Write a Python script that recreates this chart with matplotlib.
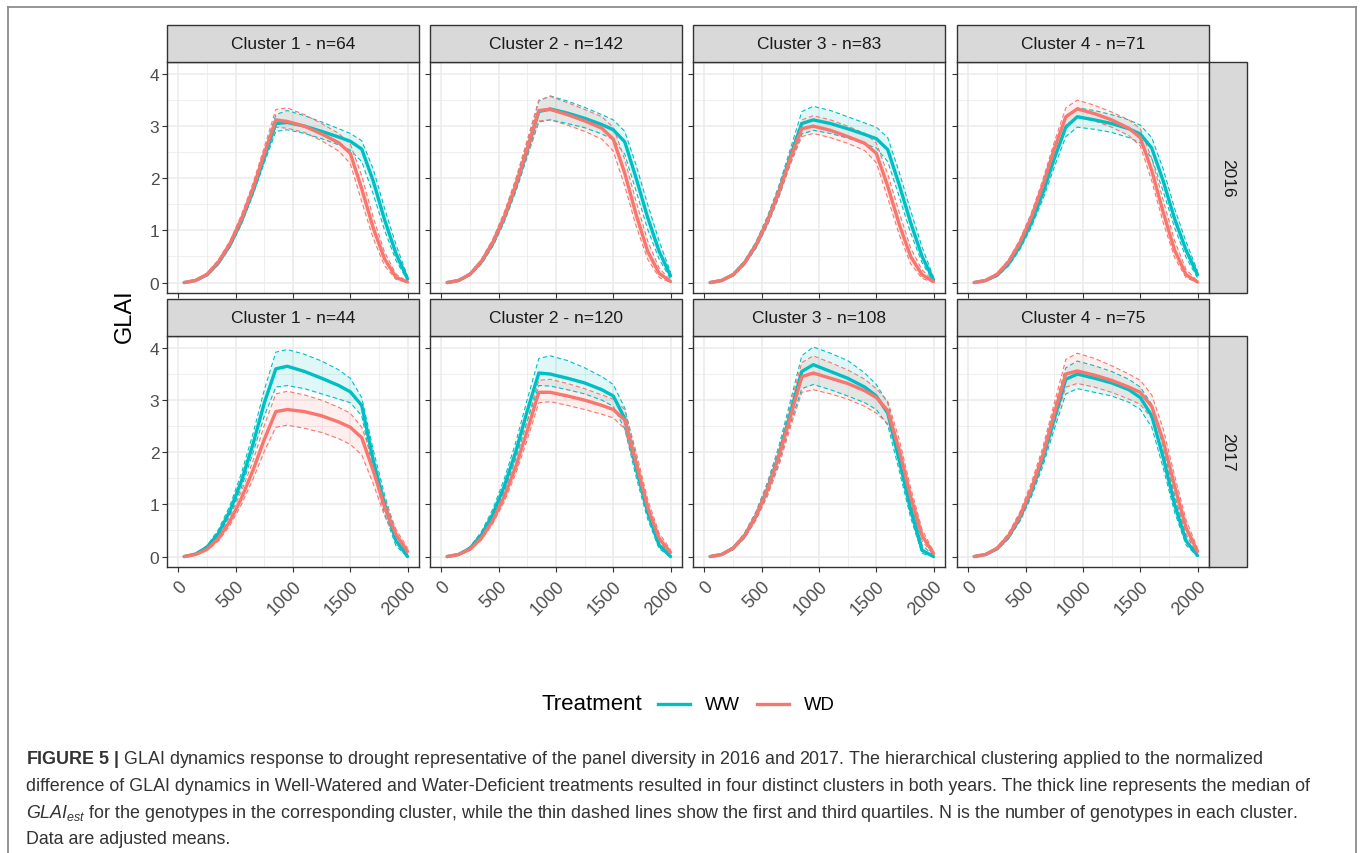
import numpy as np
import matplotlib
matplotlib.use('Agg')
import matplotlib.pyplot as plt
from matplotlib.lines import Line2D
from matplotlib.patches import Rectangle

plt.rcParams['font.family'] = ['Liberation Sans', 'DejaVu Sans']
plt.rcParams['mathtext.fontset'] = 'custom'
plt.rcParams['mathtext.rm'] = 'Liberation Sans'
plt.rcParams['mathtext.it'] = 'Liberation Sans:italic'
plt.rcParams['mathtext.bf'] = 'Liberation Sans:bold'

# ---------------- data ----------------
time = [50, 150, 250, 350, 450, 550, 650, 750, 850, 950, 1100, 1250, 1400, 1500, 1600, 1700, 1800, 1900, 2000]
years = ['2016', '2017']
strip_2016 = ['Cluster 1 - n=64', 'Cluster 2 - n=142', 'Cluster 3 - n=83', 'Cluster 4 - n=71']
strip_2017 = ['Cluster 1 - n=44', 'Cluster 2 - n=120', 'Cluster 3 - n=108', 'Cluster 4 - n=75']
treatments = ['WW', 'WD']
x_ticks = [0, 500, 1000, 1500, 2000]
y_ticks = [0, 1, 2, 3, 4]

# 2016 cluster 1
y16c1_ww_med = [0.00,0.04,0.15,0.38,0.72,1.18,1.75,2.40,3.05,3.07,3.00,2.90,2.79,2.71,2.56,1.95,1.20,0.55,0.07]
y16c1_ww_q1  = [0.00,0.03,0.13,0.35,0.68,1.12,1.68,2.30,2.90,2.93,2.86,2.76,2.64,2.54,2.32,1.70,1.00,0.42,0.04]
y16c1_ww_q3  = [0.00,0.05,0.17,0.42,0.78,1.26,1.85,2.52,3.22,3.30,3.20,3.08,2.95,2.86,2.72,2.18,1.42,0.72,0.12]
y16c1_wd_med = [0.00,0.04,0.16,0.40,0.75,1.22,1.80,2.48,3.12,3.09,3.00,2.85,2.68,2.48,1.80,1.05,0.45,0.10,0.01]
y16c1_wd_q1  = [0.00,0.03,0.14,0.37,0.71,1.16,1.72,2.38,2.98,2.96,2.88,2.72,2.52,2.28,1.55,0.85,0.32,0.06,0.00]
y16c1_wd_q3  = [0.00,0.05,0.18,0.44,0.80,1.30,1.90,2.60,3.32,3.35,3.22,3.05,2.86,2.66,2.05,1.25,0.58,0.16,0.02]
# 2016 cluster 2
y16c2_ww_med = [0.00,0.04,0.16,0.40,0.76,1.25,1.85,2.55,3.28,3.33,3.25,3.15,3.03,2.93,2.70,2.00,1.25,0.60,0.13]
y16c2_ww_q1  = [0.00,0.03,0.14,0.36,0.70,1.17,1.75,2.42,3.08,3.12,3.05,2.97,2.85,2.74,2.46,1.75,1.02,0.45,0.07]
y16c2_ww_q3  = [0.00,0.05,0.18,0.44,0.82,1.33,1.96,2.70,3.48,3.58,3.48,3.36,3.22,3.12,2.90,2.25,1.50,0.80,0.20]
y16c2_wd_med = [0.00,0.04,0.16,0.41,0.78,1.27,1.88,2.58,3.30,3.32,3.22,3.10,2.96,2.75,2.10,1.30,0.60,0.18,0.02]
y16c2_wd_q1  = [0.00,0.03,0.14,0.37,0.72,1.19,1.78,2.45,3.10,3.12,3.02,2.90,2.75,2.52,1.85,1.08,0.45,0.10,0.00]
y16c2_wd_q3  = [0.00,0.05,0.18,0.45,0.84,1.36,2.00,2.74,3.50,3.57,3.45,3.32,3.18,2.98,2.36,1.55,0.80,0.28,0.04]
# 2016 cluster 3
y16c3_ww_med = [0.00,0.04,0.15,0.38,0.72,1.18,1.75,2.42,3.05,3.12,3.05,2.95,2.84,2.76,2.55,1.88,1.15,0.50,0.05]
y16c3_ww_q1  = [0.00,0.03,0.13,0.34,0.66,1.10,1.64,2.28,2.85,2.92,2.86,2.77,2.66,2.58,2.32,1.65,0.95,0.38,0.02]
y16c3_ww_q3  = [0.00,0.05,0.17,0.42,0.78,1.27,1.86,2.56,3.28,3.38,3.30,3.18,3.06,2.98,2.78,2.12,1.38,0.68,0.10]
y16c3_wd_med = [0.00,0.04,0.15,0.38,0.72,1.18,1.74,2.38,2.95,3.00,2.92,2.80,2.67,2.48,1.85,1.12,0.50,0.15,0.02]
y16c3_wd_q1  = [0.00,0.03,0.13,0.35,0.67,1.11,1.65,2.27,2.80,2.86,2.78,2.67,2.53,2.30,1.62,0.92,0.36,0.08,0.00]
y16c3_wd_q3  = [0.00,0.05,0.17,0.41,0.77,1.25,1.83,2.50,3.12,3.20,3.12,3.00,2.86,2.68,2.08,1.35,0.66,0.24,0.04]
# 2016 cluster 4
y16c4_ww_med = [0.00,0.04,0.14,0.36,0.70,1.15,1.72,2.38,2.98,3.18,3.12,3.05,2.95,2.85,2.58,1.95,1.22,0.62,0.15]
y16c4_ww_q1  = [0.00,0.03,0.12,0.32,0.64,1.07,1.60,2.22,2.80,2.98,2.94,2.88,2.78,2.68,2.38,1.75,1.05,0.48,0.09]
y16c4_ww_q3  = [0.00,0.05,0.16,0.40,0.76,1.24,1.84,2.54,3.15,3.35,3.30,3.22,3.12,3.02,2.78,2.18,1.42,0.78,0.22]
y16c4_wd_med = [0.00,0.04,0.16,0.40,0.77,1.26,1.87,2.57,3.18,3.33,3.24,3.12,2.96,2.78,2.15,1.35,0.62,0.15,0.01]
y16c4_wd_q1  = [0.00,0.03,0.14,0.36,0.71,1.18,1.77,2.45,3.02,3.18,3.10,2.98,2.82,2.62,1.95,1.15,0.48,0.09,0.00]
y16c4_wd_q3  = [0.00,0.05,0.18,0.44,0.83,1.34,1.98,2.70,3.35,3.50,3.40,3.27,3.12,2.95,2.38,1.58,0.80,0.25,0.03]
# 2017 cluster 1
y17c1_ww_med = [0.00,0.05,0.18,0.45,0.88,1.45,2.15,2.95,3.60,3.65,3.55,3.42,3.28,3.16,2.90,1.85,1.00,0.30,0.00]
y17c1_ww_q1  = [0.00,0.04,0.15,0.40,0.80,1.33,1.98,2.70,3.25,3.28,3.22,3.12,3.02,2.95,2.70,1.65,0.82,0.20,0.00]
y17c1_ww_q3  = [0.00,0.06,0.21,0.52,0.98,1.60,2.35,3.20,3.92,3.97,3.88,3.75,3.58,3.42,3.05,2.05,1.18,0.42,0.02]
y17c1_wd_med = [0.00,0.04,0.14,0.35,0.68,1.12,1.65,2.25,2.78,2.82,2.78,2.70,2.58,2.48,2.28,1.65,0.95,0.42,0.10]
y17c1_wd_q1  = [0.00,0.03,0.12,0.30,0.60,1.00,1.48,2.02,2.48,2.52,2.46,2.38,2.26,2.15,1.95,1.40,0.78,0.32,0.05]
y17c1_wd_q3  = [0.00,0.05,0.16,0.40,0.77,1.25,1.83,2.52,3.12,3.17,3.10,3.00,2.86,2.75,2.48,1.85,1.10,0.52,0.16]
# 2017 cluster 2
y17c2_ww_med = [0.00,0.04,0.16,0.42,0.82,1.36,2.02,2.80,3.52,3.50,3.42,3.33,3.20,3.08,2.65,1.70,0.85,0.22,0.00]
y17c2_ww_q1  = [0.00,0.03,0.14,0.38,0.75,1.25,1.88,2.60,3.28,3.27,3.20,3.12,3.00,2.88,2.45,1.52,0.72,0.15,0.00]
y17c2_ww_q3  = [0.00,0.05,0.19,0.48,0.92,1.50,2.20,3.02,3.80,3.85,3.76,3.62,3.45,3.30,2.85,1.90,1.00,0.32,0.02]
y17c2_wd_med = [0.00,0.04,0.14,0.36,0.70,1.16,1.73,2.42,3.15,3.15,3.08,3.00,2.90,2.82,2.62,1.80,0.95,0.35,0.08]
y17c2_wd_q1  = [0.00,0.03,0.12,0.32,0.64,1.06,1.60,2.25,2.95,2.97,2.90,2.82,2.73,2.66,2.45,1.62,0.82,0.26,0.04]
y17c2_wd_q3  = [0.00,0.05,0.16,0.40,0.78,1.28,1.90,2.62,3.38,3.40,3.32,3.22,3.10,3.02,2.82,2.00,1.10,0.45,0.13]
# 2017 cluster 3
y17c3_ww_med = [0.00,0.04,0.16,0.40,0.78,1.30,1.95,2.75,3.55,3.68,3.55,3.42,3.25,3.08,2.75,1.85,0.90,0.12,0.00]
y17c3_ww_q1  = [0.00,0.03,0.14,0.36,0.72,1.20,1.80,2.55,3.22,3.30,3.20,3.08,2.95,2.82,2.52,1.65,0.75,0.06,0.00]
y17c3_ww_q3  = [0.00,0.05,0.18,0.45,0.86,1.42,2.12,2.98,3.85,4.02,3.90,3.76,3.52,3.30,2.95,2.05,1.05,0.22,0.02]
y17c3_wd_med = [0.00,0.04,0.16,0.40,0.78,1.28,1.92,2.68,3.45,3.52,3.42,3.32,3.18,3.05,2.80,2.05,1.15,0.40,0.06]
y17c3_wd_q1  = [0.00,0.03,0.13,0.35,0.70,1.16,1.75,2.48,3.15,3.20,3.12,3.02,2.88,2.75,2.55,1.85,0.98,0.30,0.03]
y17c3_wd_q3  = [0.00,0.05,0.18,0.44,0.85,1.40,2.08,2.90,3.72,3.85,3.72,3.58,3.40,3.22,2.98,2.25,1.32,0.52,0.10]
# 2017 cluster 4
y17c4_ww_med = [0.00,0.04,0.15,0.38,0.75,1.25,1.88,2.65,3.40,3.50,3.42,3.33,3.20,3.05,2.70,1.90,1.00,0.30,0.02]
y17c4_ww_q1  = [0.00,0.03,0.13,0.34,0.68,1.15,1.74,2.45,3.12,3.22,3.15,3.08,2.96,2.82,2.48,1.70,0.85,0.22,0.00]
y17c4_ww_q3  = [0.00,0.05,0.17,0.43,0.83,1.36,2.02,2.85,3.62,3.75,3.66,3.55,3.40,3.25,2.92,2.10,1.18,0.42,0.06]
y17c4_wd_med = [0.00,0.04,0.16,0.40,0.78,1.30,1.95,2.75,3.50,3.56,3.48,3.38,3.25,3.15,2.88,2.22,1.35,0.55,0.10]
y17c4_wd_q1  = [0.00,0.03,0.14,0.36,0.71,1.20,1.80,2.55,3.25,3.32,3.25,3.15,3.02,2.92,2.65,2.00,1.15,0.42,0.05]
y17c4_wd_q3  = [0.00,0.05,0.18,0.45,0.86,1.42,2.10,2.95,3.78,3.90,3.80,3.66,3.50,3.38,3.10,2.45,1.55,0.70,0.16]

caption_lines = [
    r"$\mathbf{FIGURE\ 5\ |}$ GLAI dynamics response to drought representative of the panel diversity in 2016 and 2017. The hierarchical clustering applied to the normalized",
    "difference of GLAI dynamics in Well-Watered and Water-Deficient treatments resulted in four distinct clusters in both years. The thick line represents the median of",
    r"$\mathit{GLAI}_{\mathit{est}}$ for the genotypes in the corresponding cluster, while the thin dashed lines show the first and third quartiles. N is the number of genotypes in each cluster.",
    "Data are adjusted means.",
]

panels = {
    ('2016', 0): {'WW': (y16c1_ww_med, y16c1_ww_q1, y16c1_ww_q3), 'WD': (y16c1_wd_med, y16c1_wd_q1, y16c1_wd_q3)},
    ('2016', 1): {'WW': (y16c2_ww_med, y16c2_ww_q1, y16c2_ww_q3), 'WD': (y16c2_wd_med, y16c2_wd_q1, y16c2_wd_q3)},
    ('2016', 2): {'WW': (y16c3_ww_med, y16c3_ww_q1, y16c3_ww_q3), 'WD': (y16c3_wd_med, y16c3_wd_q1, y16c3_wd_q3)},
    ('2016', 3): {'WW': (y16c4_ww_med, y16c4_ww_q1, y16c4_ww_q3), 'WD': (y16c4_wd_med, y16c4_wd_q1, y16c4_wd_q3)},
    ('2017', 0): {'WW': (y17c1_ww_med, y17c1_ww_q1, y17c1_ww_q3), 'WD': (y17c1_wd_med, y17c1_wd_q1, y17c1_wd_q3)},
    ('2017', 1): {'WW': (y17c2_ww_med, y17c2_ww_q1, y17c2_ww_q3), 'WD': (y17c2_wd_med, y17c2_wd_q1, y17c2_wd_q3)},
    ('2017', 2): {'WW': (y17c3_ww_med, y17c3_ww_q1, y17c3_ww_q3), 'WD': (y17c3_wd_med, y17c3_wd_q1, y17c3_wd_q3)},
    ('2017', 3): {'WW': (y17c4_ww_med, y17c4_ww_q1, y17c4_ww_q3), 'WD': (y17c4_wd_med, y17c4_wd_q1, y17c4_wd_q3)},
}

# ---------------- styling / layout ----------------
colors = {'WW': '#00BFC4', 'WD': '#F8766D'}
W, H = 1360, 854
fig = plt.figure(figsize=(W / 100, H / 100), dpi=100)
fig.patch.set_facecolor('white')

def fbox(x0, y0, x1, y1):
    return [x0 / W, 1 - y1 / H, (x1 - x0) / W, (y1 - y0) / H]

col_left = [167, 430, 693, 957]
panel_w = 252
row_top = [63, 337]
panel_h = 231
strip_h = 37
rstrip_w = 38
dark = '#333333'
strip_fill = '#D9D9D9'

t = np.array(time)
for r, yr in enumerate(years):
    strips = strip_2016 if yr == '2016' else strip_2017
    for c in range(4):
        x0 = col_left[c]; y0 = row_top[r]
        ax = fig.add_axes(fbox(x0, y0, x0 + panel_w, y0 + panel_h))
        ax.set_xlim(-100, 2100)
        ax.set_ylim(-0.2, 4.23)
        ax.set_xticks(x_ticks)
        ax.set_yticks(y_ticks)
        ax.set_xticks([250, 750, 1250, 1750], minor=True)
        ax.set_yticks([0.5, 1.5, 2.5, 3.5], minor=True)
        ax.grid(which='major', color='#EBEBEB', lw=1.1)
        ax.grid(which='minor', color='#EBEBEB', lw=0.55)
        ax.set_axisbelow(True)
        for s in ax.spines.values():
            s.set_color(dark); s.set_linewidth(1.0)
        ax.tick_params(which='major', length=3.5, width=0.8, color=dark,
                       labelcolor='#4D4D4D', labelsize=12.5, pad=2)
        ax.tick_params(axis='x', which='major', labelsize=13, pad=4)
        ax.tick_params(which='minor', length=0)
        if c != 0:
            ax.tick_params(axis='y', labelleft=False)
        if r == 0:
            ax.tick_params(axis='x', labelbottom=False)
        else:
            for lab in ax.get_xticklabels():
                lab.set_rotation(45); lab.set_ha('right'); lab.set_va('top')
                lab.set_rotation_mode('anchor')
        d = panels[(yr, c)]
        for tr in treatments:
            med, q1, q3 = d[tr]
            ax.fill_between(t, q1, q3, color=colors[tr], alpha=0.12, lw=0, zorder=2)
        for tr in treatments:
            med, q1, q3 = d[tr]
            ax.plot(t, q1, color=colors[tr], lw=0.8, ls=(0, (4, 2.5)), zorder=3)
            ax.plot(t, q3, color=colors[tr], lw=0.8, ls=(0, (4, 2.5)), zorder=3)
        for tr in treatments:
            med, q1, q3 = d[tr]
            ax.plot(t, med, color=colors[tr], lw=2.4, zorder=4, solid_capstyle='round')
        # top strip
        fig.add_artist(Rectangle((x0 / W, 1 - y0 / H), panel_w / W, strip_h / H,
                                 transform=fig.transFigure, facecolor=strip_fill,
                                 edgecolor=dark, lw=1.0))
        fig.text((x0 + panel_w / 2) / W, 1 - (y0 - strip_h / 2) / H, strips[c],
                 ha='center', va='center', fontsize=12.5, color='#1A1A1A')
    # right strip
    xr = col_left[3] + panel_w
    fig.add_artist(Rectangle((xr / W, 1 - (row_top[r] + panel_h) / H), rstrip_w / W, panel_h / H,
                             transform=fig.transFigure, facecolor=strip_fill,
                             edgecolor=dark, lw=1.0))
    fig.text((xr + rstrip_w / 2) / W, 1 - (row_top[r] + panel_h / 2) / H, yr,
             ha='center', va='center', rotation=-90, fontsize=12.5, color='#1A1A1A')

# y label
fig.text(125 / W, 1 - 316 / H, 'GLAI', rotation=90, ha='center', va='center',
         fontsize=17, color='black')

# legend
ly = 1 - 705 / H
fig.text(541 / W, ly, 'Treatment', ha='left', va='center', fontsize=16, color='black')
for tr, (lx0, lx1, tx) in zip(treatments, [(658, 690, 705), (757, 789, 804)]):
    fig.add_artist(Line2D([lx0 / W, lx1 / W], [ly, ly], transform=fig.transFigure,
                          color=colors[tr], lw=2.4))
    fig.text(tx / W, ly, tr, ha='left', va='center', fontsize=13.3, color='black')

# outer frame
frame_kw = dict(transform=fig.transFigure, color='#8C8C8C', lw=1.3)
fig.add_artist(Line2D([8 / W, 8 / W], [0, 1 - 8 / H], **frame_kw))
fig.add_artist(Line2D([8 / W, 1356 / W], [1 - 8 / H, 1 - 8 / H], **frame_kw))
fig.add_artist(Line2D([1356 / W, 1356 / W], [0, 1 - 8 / H], **frame_kw))

# caption
for i, line in enumerate(caption_lines):
    fig.text(26 / W, 1 - (760 + 26.6 * i) / H, line, ha='left', va='center',
             fontsize=12.85, color='#333333')

fig.savefig('out.png', dpi=100, facecolor='white')
